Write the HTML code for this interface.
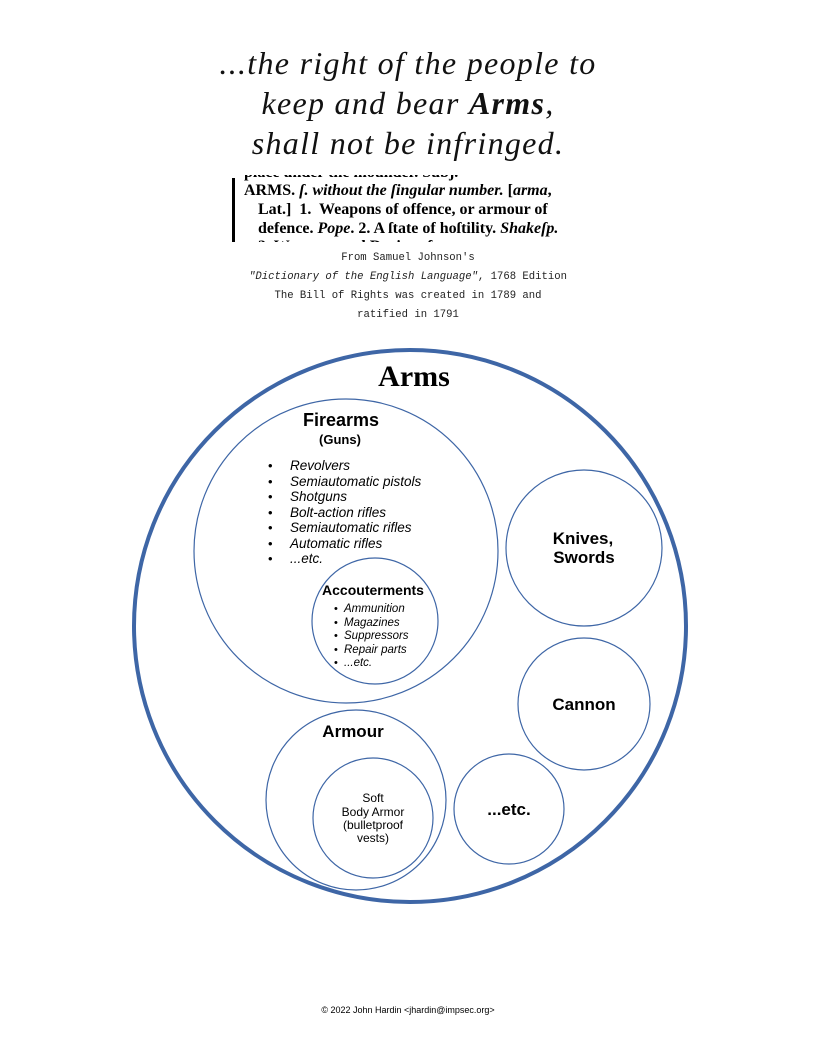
<!DOCTYPE html>
<html><head><meta charset="utf-8"><style>
body{margin:0;width:816px;height:1056px;background:#fff;position:relative;font-family:"Liberation Sans",sans-serif;}
.t{position:absolute;left:0;width:816px;text-align:center;}
.q{font-family:"Liberation Serif",serif;font-style:italic;font-size:32px;letter-spacing:1.3px;color:#111;}
.m{font-family:"Liberation Mono",monospace;font-size:10.6px;color:#222;}
.dict{position:absolute;left:232px;top:175px;width:354px;height:67px;overflow:hidden;font-family:"Liberation Serif",serif;font-weight:bold;font-size:16px;line-height:19px;color:#000;}
</style></head><body>
<div class="t q" style="top:45px">...the right of the people to</div>
<div class="t q" style="top:85px">keep and bear <b>Arms</b>,</div>
<div class="t q" style="top:125px">shall not be infringed.</div>
<div class="dict">
<div style="position:absolute;left:0;top:3px;width:3px;height:64px;background:#000"></div>
<div style="position:absolute;left:12px;top:-12px;white-space:nowrap">place under the mounder. Subj.</div>
<div style="position:absolute;left:12px;top:6px;white-space:nowrap">ARMS. <i>ſ. without the ſingular number.</i> [<i>arma</i>,</div>
<div style="position:absolute;left:26px;top:25px;white-space:nowrap">Lat.]&nbsp; 1.&nbsp; Weapons of offence, or armour of</div>
<div style="position:absolute;left:26px;top:44px;white-space:nowrap">defence. <i>Pope</i>. 2. A ſtate of hoſtility. <i>Shakeſp.</i></div>
<div style="position:absolute;left:26px;top:62px;white-space:nowrap">3. Weapons and Device of arms</div>
</div>
<div class="t m" style="top:252px">From Samuel Johnson's</div>
<div class="t m" style="top:271px"><i>"Dictionary of the English Language"</i>, 1768 Edition</div>
<div class="t m" style="top:290px">The Bill of Rights was created in 1789 and</div>
<div class="t m" style="top:309px">ratified in 1791</div>
<svg width="816" height="1056" style="position:absolute;left:0;top:0" font-family="Liberation Sans, sans-serif">
<g fill="none" stroke="#3e66a6" stroke-width="1.2">
<circle cx="410" cy="626" r="276" stroke-width="4"/>
<circle cx="346" cy="551" r="152"/>
<circle cx="375" cy="621" r="63"/>
<circle cx="584" cy="548" r="78"/>
<circle cx="584" cy="704" r="66"/>
<circle cx="356" cy="800" r="90"/>
<circle cx="373" cy="818" r="60"/>
<circle cx="509" cy="809" r="55"/>
</g>
<text x="414" y="386" text-anchor="middle" font-family="Liberation Serif, serif" font-weight="bold" font-size="30" fill="#000">Arms</text>
<text x="341" y="426" text-anchor="middle" font-weight="bold" font-size="18">Firearms</text>
<text x="340" y="444" text-anchor="middle" font-weight="bold" font-size="13">(Guns)</text>
<g font-size="13.5" font-style="italic">
<text x="290" y="470">Revolvers</text><text x="290" y="486">Semiautomatic pistols</text><text x="290" y="501">Shotguns</text><text x="290" y="517">Bolt-action rifles</text><text x="290" y="532">Semiautomatic rifles</text><text x="290" y="548">Automatic rifles</text><text x="290" y="563">...etc.</text>
</g>
<g font-size="13"><text x="268" y="470">•</text><text x="268" y="486">•</text><text x="268" y="501">•</text><text x="268" y="517">•</text><text x="268" y="532">•</text><text x="268" y="548">•</text><text x="268" y="563">•</text></g>
<text x="373" y="595" text-anchor="middle" font-weight="bold" font-size="14">Accouterments</text>
<g font-size="11.5" font-style="italic">
<text x="344" y="612">Ammunition</text><text x="344" y="626">Magazines</text><text x="344" y="639">Suppressors</text><text x="344" y="653">Repair parts</text><text x="344" y="666">...etc.</text></g>
<g font-size="11"><text x="334" y="612">•</text><text x="334" y="626">•</text><text x="334" y="639">•</text><text x="334" y="653">•</text><text x="334" y="666">•</text></g>
<g font-weight="bold" font-size="17" text-anchor="middle">
<text x="583" y="544">Knives,</text><text x="584" y="563">Swords</text>
<text x="584" y="710">Cannon</text>
<text x="353" y="737">Armour</text>
<text x="509" y="815">...etc.</text></g>
<g font-size="12" text-anchor="middle"><text x="373" y="802">Soft</text><text x="373" y="816">Body Armor</text><text x="373" y="829">(bulletproof</text><text x="373" y="842">vests)</text></g>
<text x="408" y="1013" text-anchor="middle" font-size="9">© 2022 John Hardin &lt;jhardin@impsec.org&gt;</text>
</svg>
</body></html>
